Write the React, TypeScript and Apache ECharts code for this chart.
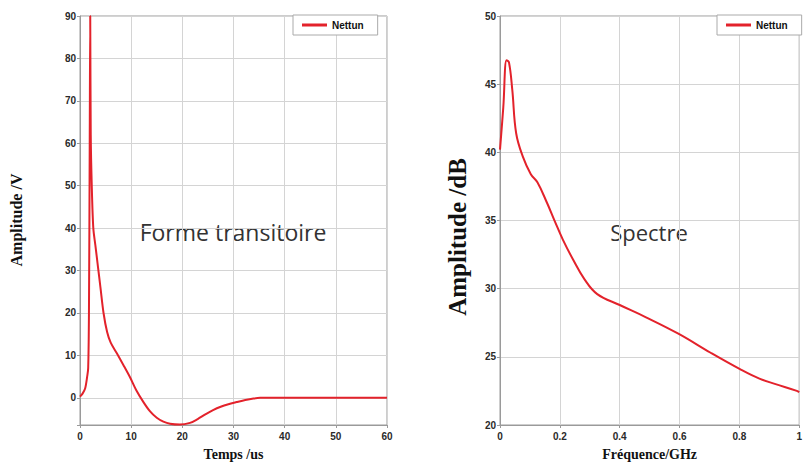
import React, { useEffect, useRef } from "react";
import * as echarts from "echarts";

// Left chart: transient waveform (Temps /us vs Amplitude /V)
const timeUs = [0, 0.5, 1, 1.4, 1.6, 1.75, 1.9, 2.0, 2.1, 2.3, 2.6, 3.0, 3.5, 4.0, 4.6, 5.3, 6.0, 7.2, 8.5, 9.8, 11, 12.4, 13.7, 15, 16.3, 17.6, 19.5, 21.5, 23, 24.5, 26, 27.5, 29, 30.6, 32.3, 33.9, 35.2, 40, 50, 60];
const voltage = [0.3, 1, 2.2, 5, 7, 20, 60, 90, 62, 50, 40, 36, 31, 26, 20, 15.5, 13, 10.5, 7.7, 4.8, 1.8, -1, -3.2, -4.7, -5.6, -6.1, -6.3, -5.9, -5, -3.9, -2.9, -2.1, -1.5, -1, -0.5, -0.15, 0, 0, 0, 0];

// Right chart: spectrum (Fréquence/GHz vs Amplitude /dB)
const freqGHz = [0, 0.011, 0.022, 0.03, 0.041, 0.054, 0.076, 0.103, 0.125, 0.157, 0.184, 0.21, 0.245, 0.282, 0.325, 0.4, 0.488, 0.596, 0.704, 0.802, 0.867, 0.921, 0.992, 1.0];
const amplitudeDb = [40.2, 43.3, 46.75, 46.6, 44.6, 41.4, 39.7, 38.4, 37.8, 36.3, 34.9, 33.6, 32.1, 30.7, 29.6, 28.8, 27.9, 26.7, 25.3, 24.1, 23.4, 23.0, 22.5, 22.4];

const seriesName = "Nettun";
const leftXTitle = "Temps /us";
const leftYTitle = "Amplitude /V";
const rightXTitle = "Fréquence/GHz";
const rightYTitle = "Amplitude /dB";
const leftNote = "Forme transitoire";
const rightNote = "Spectre";

export default function App() {
  const ref = useRef<HTMLDivElement>(null);
  useEffect(() => {
    if (!ref.current) return;
    const chart = echarts.init(ref.current, null, { renderer: "svg" });
    const lineColor = "#e3222b";
    const gridColor = "#d4d4d4";
    const axisColor = "#9a9a9a";
    const labelStyle = { fontSize: 10, fontWeight: "bold" as const, color: "#2a2a2a", fontFamily: "Liberation Sans" };
    const titleStyle = { fontFamily: "Liberation Serif", fontWeight: "bold" as const, color: "#111" };
    const legendCommon = {
      top: 15,
      data: [seriesName],
      icon: "rect",
      itemWidth: 25,
      itemHeight: 3,
      padding: [5, 14, 5, 9],
      borderColor: "#aaaaaa",
      borderWidth: 1,
      backgroundColor: "#ffffff",
      textStyle: { fontSize: 10, fontWeight: "bold" as const, color: "#111", fontFamily: "Liberation Sans" },
      selectedMode: false,
    };
    const xCommon = {
      type: "value",
      nameLocation: "middle",
      nameGap: 22,
      nameTextStyle: { ...titleStyle, fontSize: 14 },
      axisLine: { onZero: false, lineStyle: { color: axisColor } },
      axisTick: { show: true, length: 3, lineStyle: { color: axisColor } },
      axisLabel: { ...labelStyle, margin: 6 },
      splitLine: { show: true, lineStyle: { color: gridColor } },
    };
    const yCommon = {
      type: "value",
      axisLine: { show: true, onZero: false, lineStyle: { color: axisColor } },
      axisTick: { show: true, length: 3, lineStyle: { color: axisColor } },
      splitLine: { show: true, lineStyle: { color: gridColor } },
    };
    chart.setOption({
      animation: false,
      backgroundColor: "#ffffff",
      grid: [
        { left: 80, right: 418, top: 16, bottom: 40, show: true, borderColor: axisColor, borderWidth: 1 },
        { left: 500, right: -2.5, top: 16, bottom: 40, show: true, borderColor: axisColor, borderWidth: 1 },
      ],
      legend: [
        { ...legendCommon, left: 293 },
        { ...legendCommon, left: 717 },
      ],
      xAxis: [
        { ...xCommon, gridIndex: 0, min: 0, max: 60, interval: 10, name: leftXTitle },
        { ...xCommon, gridIndex: 1, min: 0, max: 1, interval: 0.2, name: rightXTitle },
      ],
      yAxis: [
        {
          ...yCommon, gridIndex: 0, min: -6.4, max: 90, splitNumber: 10,
          axisLabel: {
            ...labelStyle, margin: 4,
            formatter: (v: number) => (Math.abs(v % 10) < 1e-6 ? String(v) : ""),
          },
        },
        {
          ...yCommon, gridIndex: 1, min: 20, max: 50, interval: 5,
          axisLabel: { ...labelStyle, margin: 4 },
        },
      ],
      series: [
        {
          name: seriesName, type: "line", xAxisIndex: 0, yAxisIndex: 0,
          data: timeUs.map((t, i) => [t, voltage[i]]),
          showSymbol: false, symbol: "none", smooth: 0.3,
          lineStyle: { color: lineColor, width: 2 }, itemStyle: { color: lineColor },
        },
        {
          name: seriesName, type: "line", xAxisIndex: 1, yAxisIndex: 1,
          data: freqGHz.map((f, i) => [f, amplitudeDb[i]]),
          showSymbol: false, symbol: "none", smooth: 0.4,
          lineStyle: { color: lineColor, width: 2 }, itemStyle: { color: lineColor },
        },
      ],
      graphic: [
        {
          type: "text", x: 16, y: 220, rotation: Math.PI / 2,
          style: { text: leftYTitle, ...titleStyle, fontSize: 16, fill: "#111", align: "center", verticalAlign: "middle" },
        },
        {
          type: "text", x: 457, y: 237, rotation: Math.PI / 2,
          style: { text: rightYTitle, ...titleStyle, fontSize: 25, fill: "#111", align: "center", verticalAlign: "middle" },
        },
        {
          type: "text", x: 233, y: 232,
          style: { text: leftNote, fontFamily: "Open Sans", fontSize: 23, fill: "#333", align: "center", verticalAlign: "middle" },
        },
        {
          type: "text", x: 649, y: 232,
          style: { text: rightNote, fontFamily: "Open Sans", fontSize: 22, fill: "#333", align: "center", verticalAlign: "middle" },
        },
      ],
    });
    return () => chart.dispose();
  }, []);
  return <div ref={ref} style={{ width: 805, height: 466, position: "absolute", left: 0, top: 0 }} />;
}
